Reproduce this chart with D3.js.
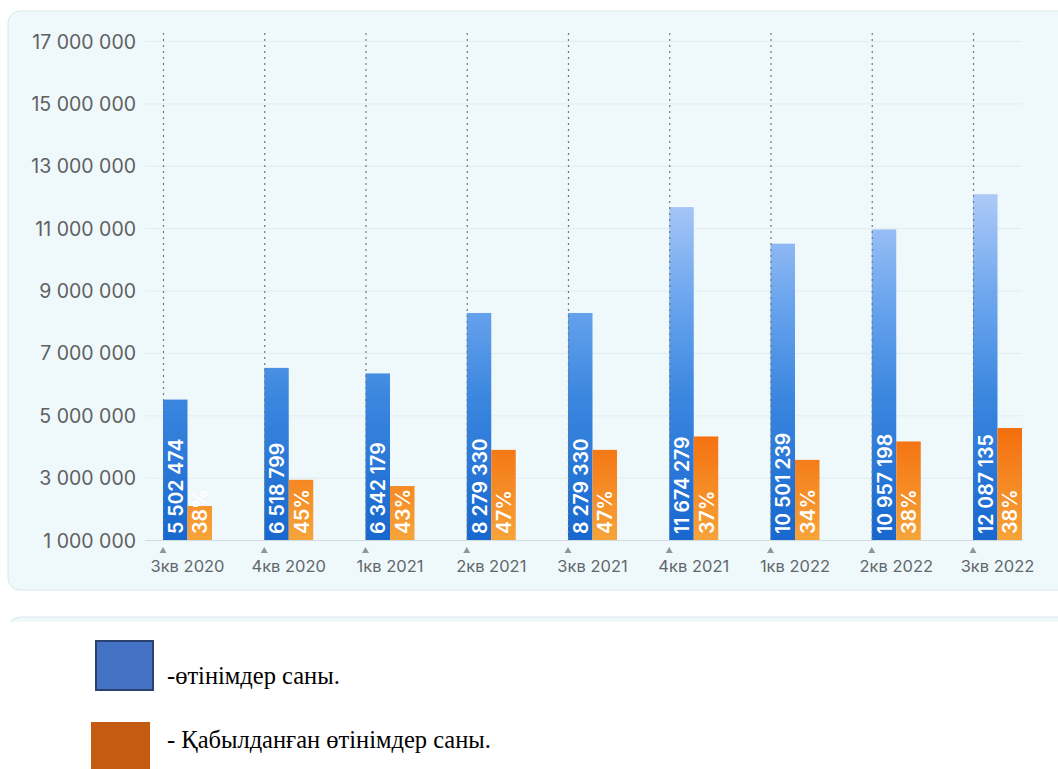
<!DOCTYPE html>
<html>
<head>
<meta charset="utf-8">
<script src="https://cdn.jsdelivr.net/npm/d3@7"></script>
<style>
  html, body { margin: 0; padding: 0; background: #ffffff; }
  svg { display: block; }
</style>
</head>
<body>
<svg id="chart" width="1058" height="769"></svg>
<script>
// ---- Data ----
const categories = ["3кв 2020", "4кв 2020", "1кв 2021", "2кв 2021", "3кв 2021", "4кв 2021", "1кв 2022", "2кв 2022", "3кв 2022"];
const applications = [5502474, 6518799, 6342179, 8279330, 8279330, 11674279, 10501239, 10957198, 12087135];
const accepted = [2090000, 2930000, 2730000, 3890000, 3890000, 4320000, 3570000, 4160000, 4590000];
const acceptedPct = [38, 45, 43, 47, 47, 37, 34, 38, 38];
const yTicks = [1000000, 3000000, 5000000, 7000000, 9000000, 11000000, 13000000, 15000000, 17000000];
const legendLabels = ["-өтінімдер саны.", "- Қабылданған өтінімдер саны."];

// ---- Setup ----
const svg = d3.select("#chart");
const fmt = v => d3.format(",")(v).replace(/,/g, " ");

const y = d3.scaleLinear().domain([1000000, 17000000]).range([540, 41]);
const x = d3.scalePoint().domain(categories).range([163, 973]);
const barW = 24.5;

const defs = svg.append("defs");
const gBlue = defs.append("linearGradient").attr("id", "gBlue")
  .attr("gradientUnits", "userSpaceOnUse").attr("x1", 0).attr("x2", 0).attr("y1", 540).attr("y2", 40);
[[0, "#1767cf"], [0.28, "#3a86df"], [0.48, "#6ba5ee"], [0.68, "#a9c8f7"], [1, "#d8e6fc"]]
  .forEach(([o, c]) => gBlue.append("stop").attr("offset", o).attr("stop-color", c));
const gOrange = defs.append("linearGradient").attr("id", "gOrange")
  .attr("gradientUnits", "userSpaceOnUse").attr("x1", 0).attr("x2", 0).attr("y1", 540).attr("y2", 420);
[[0, "#f6a43a"], [1, "#f46a0a"]]
  .forEach(([o, c]) => gOrange.append("stop").attr("offset", o).attr("stop-color", c));

// ---- Panels ----
svg.append("rect").attr("x", 8).attr("y", 11).attr("width", 1080).attr("height", 579)
  .attr("rx", 12).attr("fill", "#eff9fc").attr("stroke", "#d9e7eb").attr("stroke-width", 1);
svg.append("rect").attr("x", 8).attr("y", 617).attr("width", 1080).attr("height", 100)
  .attr("rx", 12).attr("fill", "#eff9fc").attr("stroke", "#d9e7eb").attr("stroke-width", 1);
svg.append("rect").attr("x", 0).attr("y", 622).attr("width", 1058).attr("height", 147).attr("fill", "#ffffff");

// ---- Grid ----
const yAxis = d3.axisLeft(y).tickValues(yTicks).tickFormat(fmt).tickSize(0).tickPadding(0);
const yg = svg.append("g").attr("transform", "translate(136,0)").call(yAxis);
yg.select(".domain").remove();
yg.selectAll("text")
  .attr("font-family", "Inter, Roboto, sans-serif").attr("font-size", 19.5)
  .attr("fill", "#606060").attr("text-anchor", "end").attr("dy", "0.36em");

svg.append("g").selectAll("line").data(yTicks).join("line")
  .attr("x1", 145).attr("x2", 1022)
  .attr("y1", d => y(d) + 0.5).attr("y2", d => y(d) + 0.5)
  .attr("stroke", d => d === 1000000 ? "#cfdde2" : "#e0ecf0").attr("stroke-width", 1);

// ---- Bars ----
svg.append("g").selectAll("rect").data(categories).join("rect")
  .attr("x", d => x(d)).attr("width", barW)
  .attr("y", (d, i) => y(applications[i])).attr("height", (d, i) => y(1000000) - y(applications[i]))
  .attr("fill", "url(#gBlue)");
svg.append("g").selectAll("rect").data(categories).join("rect")
  .attr("x", d => x(d) + barW).attr("width", barW)
  .attr("y", (d, i) => y(accepted[i])).attr("height", (d, i) => y(1000000) - y(accepted[i]))
  .attr("fill", "url(#gOrange)");

// ---- Dotted category lines ----
svg.append("g").selectAll("line").data(categories).join("line")
  .attr("x1", d => x(d) + 0.5).attr("x2", d => x(d) + 0.5)
  .attr("y1", 33).attr("y2", 540)
  .attr("stroke", "#6f7a80").attr("stroke-width", 1.2).attr("stroke-dasharray", "2,4");

// ---- Bar labels ----
svg.append("g").selectAll("text").data(categories).join("text")
  .attr("transform", d => `translate(${x(d) + barW / 2 + 0.5},534) rotate(-90)`)
  .attr("text-anchor", "start").attr("dy", "0.36em")
  .attr("font-family", "Inter, Roboto, sans-serif").attr("font-size", 19.5).attr("font-weight", 600)
  .attr("fill", "#ffffff")
  .text((d, i) => fmt(applications[i]));
svg.append("g").selectAll("text").data(categories).join("text")
  .attr("transform", d => `translate(${x(d) + barW * 1.5 + 0.5},534) rotate(-90)`)
  .attr("text-anchor", "start").attr("dy", "0.36em")
  .attr("font-family", "Inter, Roboto, sans-serif").attr("font-size", 19.5).attr("font-weight", 600)
  .attr("fill", "#ffffff")
  .text((d, i) => acceptedPct[i] + "%");

// ---- X axis ----
svg.append("g").selectAll("path").data(categories).join("path")
  .attr("d", d => `M${x(d) - 3.5},553 L${x(d) + 3.5},553 L${x(d)},547 Z`)
  .attr("fill", "#8e969a");
svg.append("g").selectAll("text").data(categories).join("text")
  .attr("x", d => x(d) + barW).attr("y", 572)
  .attr("text-anchor", "middle")
  .attr("font-family", "Inter, Roboto, sans-serif").attr("font-size", 16.5)
  .attr("fill", "#62676b")
  .text(d => d);

// ---- Legend ----
const legend = svg.append("g");
legend.append("rect").attr("x", 96).attr("y", 641).attr("width", 57).attr("height", 49)
  .attr("fill", "#4472c4").attr("stroke", "#2b426e").attr("stroke-width", 2);
legend.append("rect").attr("x", 91).attr("y", 722).attr("width", 59).attr("height", 50)
  .attr("fill", "#c55a11");
legend.append("text").attr("x", 167).attr("y", 684)
  .attr("font-family", "'Liberation Serif', 'Times New Roman', serif").attr("font-size", 24.5)
  .attr("fill", "#000").text(legendLabels[0]);
legend.append("text").attr("x", 167).attr("y", 748)
  .attr("font-family", "'Liberation Serif', 'Times New Roman', serif").attr("font-size", 24.5)
  .attr("fill", "#000").text(legendLabels[1]);
</script>
</body>
</html>
